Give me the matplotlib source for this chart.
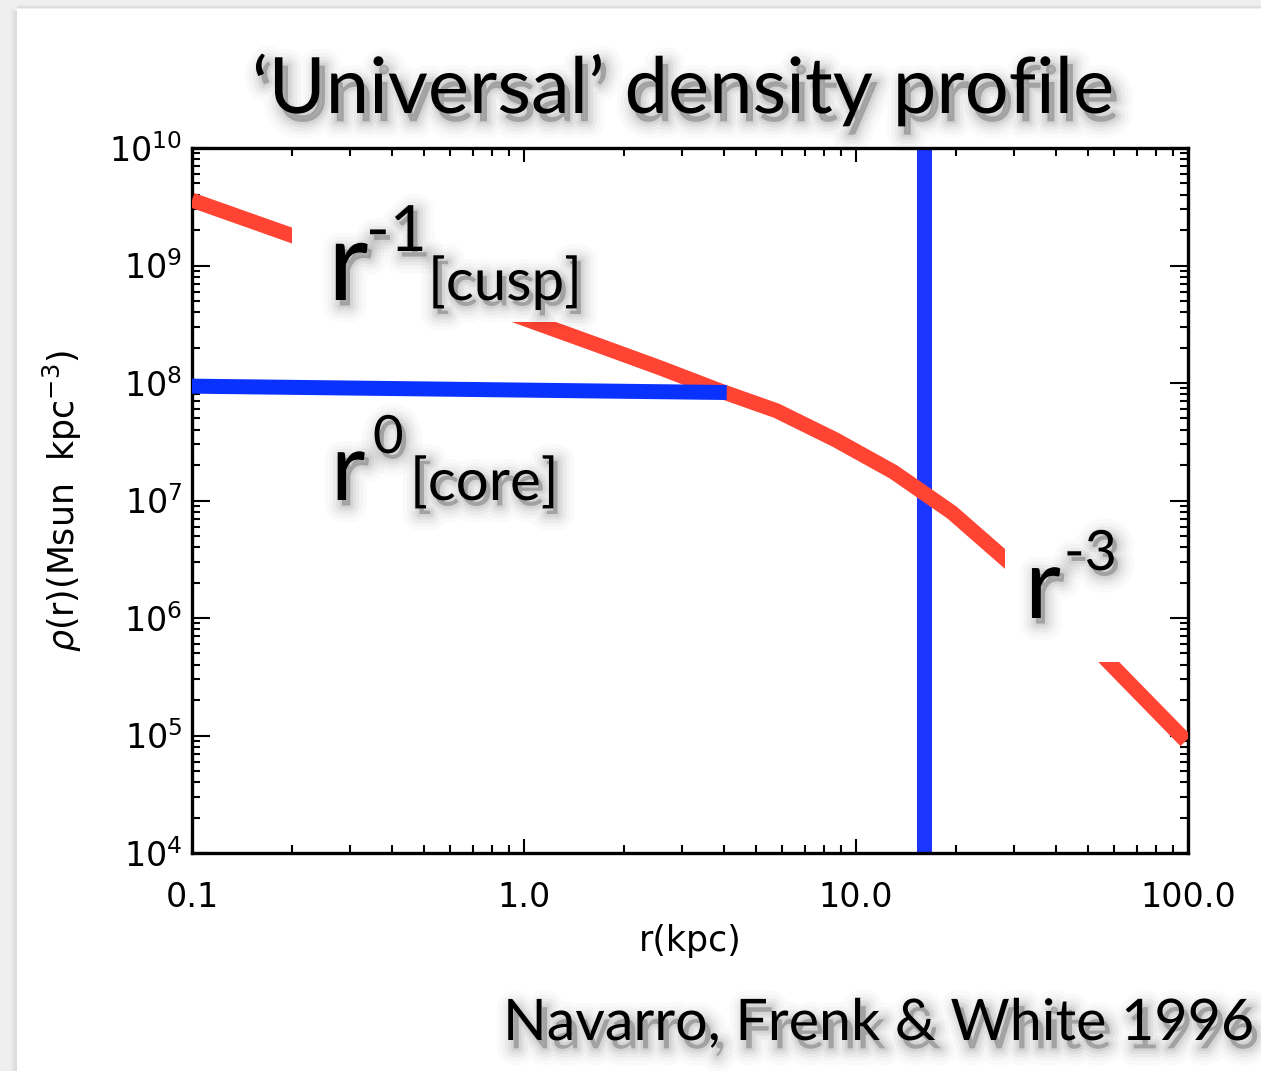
import numpy as np
import matplotlib.pyplot as plt
import matplotlib.patheffects as pe
from matplotlib.patches import Rectangle
from matplotlib.ticker import FixedLocator, FixedFormatter, LogLocator, NullFormatter

# NFW profile as sampled in the figure (r in kpc, rho in Msun kpc^-3)
r_nfw = [0.1, 0.15, 0.225, 0.3375, 0.506, 0.759, 1.139, 1.709, 2.563, 3.844,
         5.767, 8.65, 12.97, 19.46, 29.19, 43.79, 65.68, 98.5]
rho_nfw = [3.6e9, 2.4e9, 1.6e9, 1.06e9, 7.0e8, 4.7e8, 3.1e8, 2.05e8, 1.35e8, 8.7e7,
           5.8e7, 3.3e7, 1.75e7, 7.9e6, 2.9e6, 9.4e5, 2.9e5, 9.0e4]

# cored profile
r_core = [0.1, 4.08]
rho_core = [9.4e7, 8.3e7]

# scale radius
r_scale = 16.0

xtick_vals = [0.1, 1.0, 10.0, 100.0]
xtick_labels = ['0.1', '1.0', '10.0', '100.0']

RED = '#ff4433'
BLUE = '#0a32ff'
BLUE2 = '#1a36ff'

W, H = 1261, 1071


def fx(x):
    return x / W


def fy(y):
    return 1 - y / H


def shadow(off=(3, -4)):
    # soft drop shadow: stacked faint strokes + faint fill
    fx_list = [pe.Stroke(linewidth=lw, foreground='black', alpha=a, offset=off)
               for lw, a in ((24, 0.018), (18, 0.025), (13, 0.035), (8, 0.045), (4, 0.05))]
    fx_list.append(pe.SimplePatchShadow(offset=off, shadow_rgbFace='black', alpha=0.08))
    fx_list.append(pe.Normal())
    return fx_list


plt.rcParams['mathtext.fontset'] = 'dejavusans'
plt.rcParams['font.family'] = ['DejaVu Sans']

fig = plt.figure(figsize=(12.61, 10.71), dpi=100)

# slide frame shading at left/top
fig.patches.append(Rectangle((0, 0), fx(17), 1, transform=fig.transFigure,
                             facecolor='#efefef', edgecolor='none', zorder=-10))
fig.patches.append(Rectangle((0, fy(9)), 1, 9 / H, transform=fig.transFigure,
                             facecolor='#efefef', edgecolor='none', zorder=-10))
for i, c in enumerate(['#e8e8e8', '#e2e2e2', '#dcdcdc']):
    fig.patches.append(Rectangle((fx(11 + 2 * i), 0), 2 / W, fy(9 + i), transform=fig.transFigure,
                                 facecolor=c, edgecolor='none', zorder=-9))
    fig.patches.append(Rectangle((fx(17), fy(6 + i)), 1, 1 / H, transform=fig.transFigure,
                                 facecolor=c, edgecolor='none', zorder=-9))

ax = fig.add_axes([fx(192), fy(853), (1188 - 192) / W, (853 - 148) / H])
ax.set_facecolor('white')

ax.axvline(r_scale, color=BLUE2, lw=10.8, zorder=2, solid_capstyle='butt')
ax.plot(r_nfw, rho_nfw, color=RED, lw=10.8, zorder=3, solid_capstyle='butt')
ax.plot(r_core, rho_core, color=BLUE, lw=10.8, zorder=4, solid_capstyle='butt')

# white label backgrounds that hide the curve
for (x0, y0, x1, y1) in [(292, 212, 600, 322), (1005, 515, 1150, 662)]:
    ax.add_patch(Rectangle((fx(x0), fy(y1)), (x1 - x0) / W, (y1 - y0) / H,
                           transform=fig.transFigure, facecolor='white',
                           edgecolor='none', zorder=5))

ax.set_xscale('log')
ax.set_yscale('log')
ax.set_xlim(0.1, 100)
ax.set_ylim(1e4, 1e10)

ax.xaxis.set_major_locator(FixedLocator(xtick_vals))
ax.xaxis.set_major_formatter(FixedFormatter(xtick_labels))
ax.xaxis.set_minor_locator(LogLocator(base=10, subs=np.arange(2, 10), numticks=50))
ax.xaxis.set_minor_formatter(NullFormatter())
ax.yaxis.set_major_locator(LogLocator(base=10, numticks=20))
ax.yaxis.set_minor_locator(LogLocator(base=10, subs=np.arange(2, 10), numticks=50))
ax.yaxis.set_minor_formatter(NullFormatter())

ax.tick_params(which='both', direction='in', top=True, right=True, width=1.5, color='black')
ax.tick_params(axis='x', which='major', length=10, pad=20, labelsize=24)
ax.tick_params(axis='y', which='major', length=13, pad=7, labelsize=24)
ax.tick_params(which='minor', length=5.5)
for s in ax.spines.values():
    s.set_linewidth(2.4)

ax.set_xlabel('r(kpc)', fontsize=25)
ax.xaxis.set_label_coords(0.5, -0.10)
ax.set_ylabel(r'$\rho$(r)(Msun  kpc$^{-3}$)', fontsize=25)
ax.yaxis.set_label_coords(-0.108, 0.5)

# slide texts
SL = 'Lato'
fig.text(fx(683), fy(113), '\u2018Universal\u2019 density profile', fontsize=56,
         family=SL, ha='center', va='baseline', zorder=10, path_effects=shadow((4, -6)))
fig.text(fx(503), fy(1040), 'Navarro, Frenk & White 1996', fontsize=41.3,
         family=SL, ha='left', va='baseline', zorder=10, path_effects=shadow((4, -6)))

fig.text(fx(328), fy(300), 'r', fontsize=80, family=SL, va='baseline', zorder=10, path_effects=shadow())
fig.text(fx(366), fy(251), '-1', fontsize=46, family=SL, va='baseline', zorder=10, path_effects=shadow())
fig.text(fx(428), fy(300), '[cusp]', fontsize=42, family=SL, va='baseline', zorder=10, path_effects=shadow())

fig.text(fx(331), fy(500), 'r', fontsize=68, family=SL, va='baseline', zorder=10, path_effects=shadow())
fig.text(fx(373), fy(453), '0', fontsize=38, family=SL, va='baseline', zorder=10, path_effects=shadow())
fig.text(fx(410), fy(500), '[core]', fontsize=42, family=SL, va='baseline', zorder=10, path_effects=shadow())

fig.text(fx(1025), fy(618), 'r', fontsize=71, family=SL, va='baseline', zorder=10, path_effects=shadow())
fig.text(fx(1064), fy(570), '-3', fontsize=40, family=SL, va='baseline', zorder=10, path_effects=shadow())

fig.savefig('out.png', dpi=100, facecolor='white')
